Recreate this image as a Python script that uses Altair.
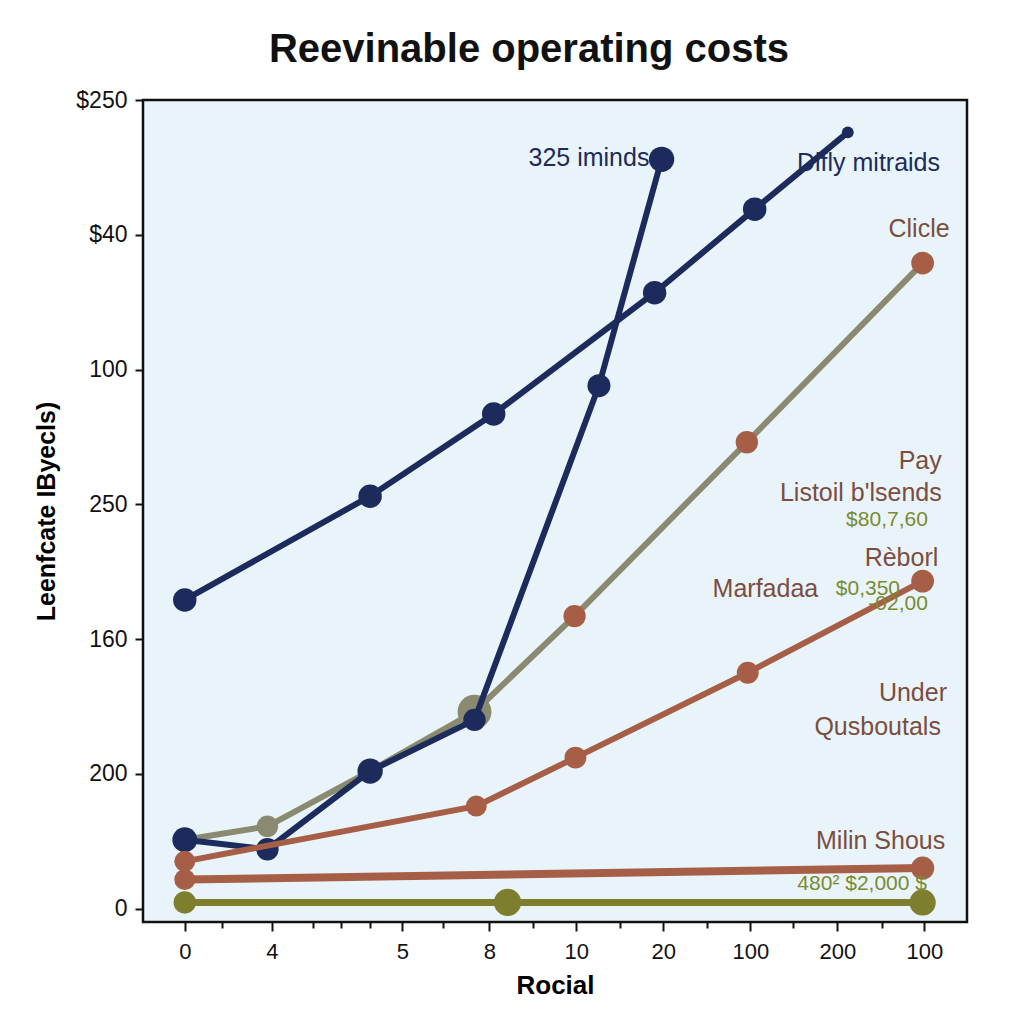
import altair as alt
import pandas as pd

FONT = "Liberation Sans"

TITLE = "Reevinable operating costs"
X_TITLE = "Rocial"
Y_TITLE = "Leenfcate IByecls)"

# axis ticks (synthetic positions) and their printed labels
x_major_pos = [0, 1, 2.5, 3.5, 4.5, 5.5, 6.5, 7.5, 8.5]
x_major_lab = ["0", "4", "5", "8", "10", "20", "100", "200", "100"]
x_minor_pos = [0.43, 1.47, 1.8, 2.13, 2.97, 4.0, 5.0, 6.0, 6.99, 8.01]
y_pos = [0, 1, 2, 3, 4, 5, 6]
y_lab = ["0", "200", "160", "250", "100", "$40", "$250"]

NAVY = "#1c2a5c"
GREY = "#8a8a70"
RUST = "#a75e47"
OLIVE = "#7e7e2f"
LABEL_BROWN = "#7b4d3f"
LABEL_OLIVE = "#7a8a2e"

# series: x, y, dot sizes, dot colors
grey_x = [0, 0.95, 2.13, 3.33, 4.48, 6.46, 8.48]
grey_y = [0.51, 0.61, 1.02, 1.46, 2.17, 3.46, 4.79]
grey_size = [0, 460, 0, 1150, 500, 500, 520]
grey_dot = [GREY, GREY, GREY, GREY, RUST, RUST, RUST]

navyB_x = [0, 0.95, 2.13, 3.33, 4.76, 5.48]
navyB_y = [0.51, 0.44, 1.02, 1.40, 3.88, 5.56]
navyB_size = [620, 500, 640, 500, 530, 640]

rustM_x = [0, 3.35, 4.49, 6.47, 8.48]
rustM_y = [0.35, 0.76, 1.12, 1.75, 2.43]
rustM_size = [440, 440, 480, 480, 520]

rustF_x = [0, 8.48]
rustF_y = [0.215, 0.30]
rustF_size = [440, 540]

olive_x = [0, 3.71, 8.48]
olive_y = [0.045, 0.045, 0.045]
olive_size = [500, 740, 690]

navyA_x = [0, 2.13, 3.55, 5.40, 6.55, 7.62]
navyA_y = [2.29, 3.06, 3.67, 4.57, 5.19, 5.76]
navyA_size = [550, 550, 550, 550, 550, 140]

# annotations (right-aligned)
ann_text = ["325 iminds", "Difly mitraids", "Clicle", "Pay", "Listoil b'lsends",
            "Rèborl", "Marfadaa", "Under", "Qusboutals", "Milin Shous"]
ann_x = [5.34, 8.68, 8.79, 8.70, 8.70, 8.66, 7.28, 8.76, 8.69, 8.74]
ann_y = [5.57, 5.53, 5.04, 3.32, 3.08, 2.60, 2.37, 1.60, 1.35, 0.50]
ann_color = [NAVY, NAVY, LABEL_BROWN, LABEL_BROWN, LABEL_BROWN,
             LABEL_BROWN, LABEL_BROWN, LABEL_BROWN, LABEL_BROWN, LABEL_BROWN]

money_text = ["$80,7,60", "$0,350", "-02,00", "480² $2,000 $"]
money_x = [8.54, 8.22, 8.54, 8.53]
money_y = [2.88, 2.37, 2.26, 0.185]

xscale = alt.Scale(domain=[-0.48, 8.99], nice=False, zero=False)
yscale = alt.Scale(domain=[-0.1, 6.0], nice=False, zero=False)

x_all = sorted(x_major_pos + x_minor_pos)
x_label_expr = (f"indexof({x_major_pos}, datum.value) >= 0 ? "
                f"{x_major_lab}[indexof({x_major_pos}, datum.value)] : ''")
x_tick_expr = f"indexof({x_major_pos}, datum.value) >= 0 ? 9 : 6"
y_label_expr = f"{y_lab}[round(datum.value)]"

X = alt.X("x:Q", scale=xscale, axis=alt.Axis(
    values=x_all, labelExpr=x_label_expr, tickSize=alt.ExprRef(x_tick_expr),
    title=X_TITLE, titleFontSize=26, titleFontWeight="bold", titleFont=FONT,
    titlePadding=10, labelFontSize=22, labelFont=FONT, labelPadding=10,
    labelColor="#111", tickColor="#111", tickWidth=2, domain=False, grid=False,
    labelFlush=False, labelOverlap=False))
Y = alt.Y("y:Q", scale=yscale, axis=alt.Axis(
    values=y_pos, labelExpr=y_label_expr, title=Y_TITLE, titleFontSize=25,
    titleFontWeight="bold", titleFont=FONT, titlePadding=16, labelFontSize=23,
    labelFont=FONT, labelPadding=8, tickSize=8, tickWidth=2, tickColor="#111",
    labelColor="#111", domain=False, grid=False, labelFlush=False,
    labelOverlap=False))


def series_layers(xs, ys, sizes, line_color, dot_colors, width=6):
    df = pd.DataFrame({"x": xs, "y": ys, "s": sizes, "c": dot_colors})
    line = alt.Chart(df).mark_line(color=line_color, strokeWidth=width).encode(x=X, y=Y)
    dots = alt.Chart(df).mark_circle(opacity=1).encode(
        x=X, y=Y, size=alt.Size("s:Q", scale=None),
        color=alt.Color("c:N", scale=None))
    return [line, dots]


layers = []
layers += series_layers(grey_x, grey_y, grey_size, GREY, grey_dot)
layers += series_layers(navyB_x, navyB_y, navyB_size, NAVY, [NAVY] * len(navyB_x))
layers += series_layers(rustM_x, rustM_y, rustM_size, RUST, [RUST] * len(rustM_x))
layers += series_layers(rustF_x, rustF_y, rustF_size, RUST, [RUST] * len(rustF_x), 8)
layers += series_layers(olive_x, olive_y, olive_size, OLIVE, [OLIVE] * len(olive_x), 7)
layers += series_layers(navyA_x, navyA_y, navyA_size, NAVY, [NAVY] * len(navyA_x))

ann_df = pd.DataFrame({"x": ann_x, "y": ann_y, "t": ann_text, "c": ann_color})
layers.append(alt.Chart(ann_df).mark_text(
    align="right", baseline="middle", fontSize=25, font=FONT).encode(
    x=X, y=Y, text="t:N", color=alt.Color("c:N", scale=None)))

money_df = pd.DataFrame({"x": money_x, "y": money_y, "t": money_text})
layers.append(alt.Chart(money_df).mark_text(
    align="right", baseline="middle", fontSize=21, font=FONT,
    color=LABEL_OLIVE).encode(x=X, y=Y, text="t:N"))

chart = alt.layer(*layers).properties(
    width=824, height=822,
    background="white",
    title=alt.TitleParams(TITLE, fontSize=40, fontWeight="bold", font=FONT,
                          color="#111", anchor="middle", dx=-26, offset=19),
    autosize=alt.AutoSizeParams(type="none"),
    padding={"left": 135, "top": 92, "right": 49, "bottom": 94},
).configure_view(
    fill="#e9f4fa", stroke="#111", strokeWidth=2.5
)

chart.save("out.html", embed_options={"renderer": "svg", "actions": False})
